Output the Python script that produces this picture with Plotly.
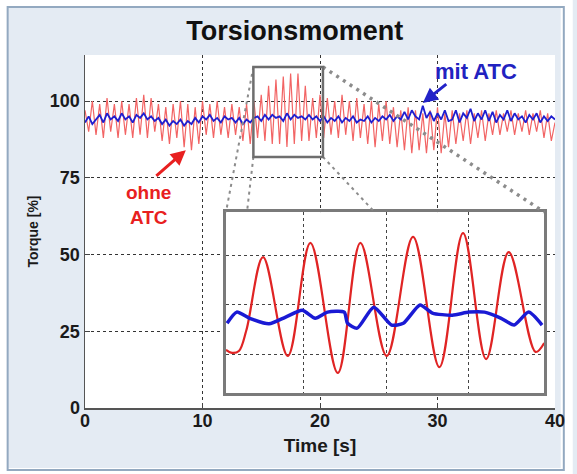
import numpy as np
import plotly.graph_objects as go

# ---------------- data ----------------
t_main = np.linspace(0, 40, 129)

red_main = [97, 90, 100, 89, 99, 88, 101, 90, 99, 88,
            100, 89, 99, 88, 101, 89, 102, 88, 101, 90,
            99, 87, 98, 86, 99, 88, 100, 85, 99, 84,
            98, 86, 100, 89, 99, 88, 100, 89, 98, 88,
            99, 89, 98, 87, 99, 86, 100, 88, 102, 87,
            105, 86, 107, 86, 108, 85, 109, 86, 109, 87,
            105, 87, 101, 88, 102, 88, 101, 89, 100, 88,
            102, 89, 100, 87, 101, 88, 99, 86, 100, 85,
            99, 87, 100, 86, 98, 85, 97, 84, 98, 83,
            97, 84, 96, 83, 97, 84, 98, 83, 96, 85,
            97, 86, 96, 87, 97, 86, 96, 88, 97, 87,
            96, 89, 97, 89, 96, 90, 97, 89, 96, 90,
            97, 89, 96, 90, 97, 88, 96, 87, 93]

blue_main = [93, 95, 92.5, 94, 95.5, 93, 96, 94, 95, 93.5,
             96, 94, 95, 93, 95.5, 94.5, 96, 94, 95, 93.5,
             94.5, 92.5, 94, 92, 93.5, 92.5, 94, 92, 93.5, 92.5,
             94.5, 93, 95, 94, 95.5, 93.5, 94.5, 93, 95, 94,
             94.5, 93, 94.5, 92.5, 94, 93, 94.5, 95, 93.5, 95.5,
             94, 95.5, 94.5, 95, 93.5, 96, 94, 95.5, 94.5, 95,
             94, 95.5, 94, 95, 93.5, 95, 93, 94.5, 93.5, 95,
             93, 94.5, 93.5, 95, 93, 94, 93.5, 95, 93, 94.5,
             93.5, 95, 94, 95.5, 93.5, 95, 94, 96.5, 94, 97,
             95, 94, 98.5, 94.5, 96.5, 93.5, 96, 94, 97, 93.5,
             94, 97, 93, 96, 94.5, 97.5, 93.5, 96, 94, 97,
             93.5, 96.5, 93, 95.5, 94, 97, 93.5, 96, 94, 95,
             93, 95.5, 94, 96, 93, 95, 93.5, 95, 94]

# zoomed detail shown in the inset
inset_t_red = [14.33, 14.44, 14.57, 14.71, 15.02, 15.48, 15.90, 16.41, 16.83,
               17.32, 17.81, 18.30, 18.74, 19.17, 19.59, 20.09, 20.25]
inset_red = [88.8, 88.3, 88.6, 92.0, 103.8, 87.8, 106.1, 85.05, 106.1,
             87.8, 107.1, 86.0, 107.7, 87.3, 104.6, 88.45, 89.9]

inset_t_blue = [14.35, 14.53, 14.77, 15.13, 15.44, 15.75, 15.99, 16.22, 16.53,
                16.59, 16.77, 17.08, 17.41, 17.63, 17.94, 18.17, 18.54, 18.85,
                19.14, 19.45, 19.69, 19.96, 20.21]
inset_blue = [93.1, 94.9, 93.9, 93.0, 94.1, 95.2, 93.9, 94.9, 94.9,
              93.1, 92.3, 95.7, 92.8, 93.1, 96.05, 94.75, 94.4, 94.9,
              94.9, 93.9, 92.8, 94.9, 92.8]

box_t = [14.33, 20.25]
box_v = [81.8, 111.1]

x_ticks = [0, 10, 20, 30, 40]
y_ticks = [0, 25, 50, 75, 100]
inset_xgrid = [15.77, 17.32, 18.85]
inset_ygrid = [88.1, 96.2, 104.1]

X_RANGE = [0, 40]
Y_RANGE = [0, 115]
INSET_DOM_X = [0.30, 0.977]
INSET_DOM_Y = [0.0425, 0.555]

FONT = "Liberation Sans, Arial, sans-serif"
BLUE = "#1e1ed0"

fig = go.Figure()

# main traces
fig.add_trace(go.Scatter(x=t_main, y=red_main, mode="lines",
                         line=dict(color="#f26464", width=1.2),
                         xaxis="x", yaxis="y", hoverinfo="skip"))
fig.add_trace(go.Scatter(x=t_main, y=blue_main, mode="lines",
                         line=dict(color=BLUE, width=1.8),
                         xaxis="x", yaxis="y", hoverinfo="skip"))

# inset traces
fig.add_trace(go.Scatter(x=inset_t_red, y=inset_red, mode="lines",
                         line=dict(color="#e02424", width=2.2, shape="spline", smoothing=1.0),
                         xaxis="x2", yaxis="y2", hoverinfo="skip"))
fig.add_trace(go.Scatter(x=inset_t_blue, y=inset_blue, mode="lines",
                         line=dict(color="#1a1ad4", width=3.5, shape="spline", smoothing=0.6),
                         xaxis="x2", yaxis="y2", hoverinfo="skip"))

# helpers for paper coordinates of box corners
def px(t):
    return (t - X_RANGE[0]) / (X_RANGE[1] - X_RANGE[0])

def py(v):
    return (v - Y_RANGE[0]) / (Y_RANGE[1] - Y_RANGE[0])

bx0, bx1 = px(box_t[0]), px(box_t[1])
by0, by1 = py(box_v[0]), py(box_v[1])
ix0, ix1 = INSET_DOM_X
iy0, iy1 = INSET_DOM_Y

def clip_to_top(xa, ya, xb, yb):
    f = (ya - iy1) / (ya - yb)
    return xa + f * (xb - xa), iy1

shapes = []
shapes.append(dict(type="rect", xref="paper", yref="paper",
                   x0=-85/480, x1=(577-85)/480, y0=-66/353, y1=(408)/353,
                   line=dict(color="white", width=12), fillcolor="rgba(0,0,0,0)", layer="below"))
shapes.append(dict(type="rect", xref="paper", yref="paper",
                   x0=(6-85)/480, x1=(574-85)/480, y0=(408-470)/353, y1=(408-7)/353,
                   line=dict(color="#93a9c0", width=2), fillcolor="rgba(0,0,0,0)", layer="below"))

dot = "3px,4px"
shapes.append(dict(type="line", xref="paper", yref="paper", x0=bx1, y0=by1, x1=ix1, y1=iy1,
                   line=dict(color="#8c8c8c", width=3.5, dash="3px,5px"), layer="above"))
shapes.append(dict(type="line", xref="paper", yref="paper", x0=bx0, y0=by1, x1=ix0, y1=iy1,
                   line=dict(color="#8c8c8c", width=2, dash=dot), layer="above"))
cx, cy = clip_to_top(bx0, by0, ix0, iy0)
shapes.append(dict(type="line", xref="paper", yref="paper", x0=bx0, y0=by0, x1=cx, y1=cy,
                   line=dict(color="#8c8c8c", width=2, dash=dot), layer="above"))
cx, cy = clip_to_top(bx1, by0, ix1, iy0)
shapes.append(dict(type="line", xref="paper", yref="paper", x0=bx1, y0=by0, x1=cx, y1=cy,
                   line=dict(color="#8c8c8c", width=2, dash=dot), layer="above"))
shapes.append(dict(type="rect", xref="x", yref="y", x0=box_t[0], x1=box_t[1], y0=box_v[0], y1=box_v[1],
                   line=dict(color="#6e6e6e", width=2.5), fillcolor="rgba(0,0,0,0)", layer="above"))

annotations = [
    dict(x=33.3, y=109.5, xref="x", yref="y", text="mit ATC", showarrow=False,
         font=dict(family=FONT, size=22, color="#2222c0", weight="bold")),
    dict(x=28.75, y=99.4, xref="x", yref="y", text="", showarrow=True,
         ax=25, ay=-20, arrowhead=2, arrowsize=1, arrowwidth=3, arrowcolor="#2222c8"),
    dict(x=5.42, y=66.1, xref="x", yref="y", text="ohne<br>ATC", showarrow=False,
         font=dict(family=FONT, size=19, color="#e82020", weight="bold")),
    dict(x=8.58, y=84.0, xref="x", yref="y", text="", showarrow=True,
         ax=-31, ay=27, arrowhead=2, arrowsize=1, arrowwidth=3, arrowcolor="#e82020"),
]

fig.update_layout(
    width=577, height=474,
    margin=dict(l=85, r=12, t=55, b=66),
    paper_bgcolor="#e4ebf3",
    plot_bgcolor="white",
    showlegend=False,
    hovermode=False,
    title=dict(text="Torsionsmoment", x=0.511, xref="container", xanchor="center",
               y=1 - 31/474, yref="container", yanchor="middle",
               font=dict(family=FONT, size=27, color="#111111", weight="bold")),
    xaxis=dict(domain=[0, 1], range=X_RANGE, tickvals=x_ticks, ticks="inside", ticklen=5,
               tickcolor="#444", showgrid=True, griddash="dot", gridcolor="#333", gridwidth=1,
               showline=True, linecolor="#555", linewidth=1.5, zeroline=False,
               ticklabelstandoff=-4,
               tickfont=dict(family=FONT, size=18, color="#1a1a1a", weight="bold"),
               title=dict(text="Time [s]", standoff=8,
                          font=dict(family=FONT, size=19, color="#1a1a1a", weight="bold"))),
    yaxis=dict(domain=[0, 1], range=Y_RANGE, tickvals=y_ticks, ticks="inside", ticklen=5,
               tickcolor="#444", showgrid=True, griddash="dot", gridcolor="#333", gridwidth=1,
               showline=True, linecolor="#555", linewidth=1.5, zeroline=False,
               tickfont=dict(family=FONT, size=18, color="#1a1a1a", weight="bold"),
               title=dict(text="Torque [%]", standoff=8,
                          font=dict(family=FONT, size=14, color="#1a1a1a", weight="bold"))),
    xaxis2=dict(domain=INSET_DOM_X, anchor="y2", range=box_t, tickvals=inset_xgrid,
                showticklabels=False, ticks="", showgrid=True, griddash="dot",
                gridcolor="#444", gridwidth=1, showline=True, mirror=True,
                linecolor="#7a7a7a", linewidth=3, zeroline=False),
    yaxis2=dict(domain=INSET_DOM_Y, anchor="x2", range=box_v, tickvals=inset_ygrid,
                showticklabels=False, ticks="", showgrid=True, griddash="dot",
                gridcolor="#444", gridwidth=1, showline=True, mirror=True,
                linecolor="#7a7a7a", linewidth=3, zeroline=False),
    shapes=shapes,
    annotations=annotations,
)

fig.write_html("out.html", config={"displayModeBar": False, "staticPlot": True},
               post_script="document.body.style.margin='0';document.body.style.overflow='hidden';")
